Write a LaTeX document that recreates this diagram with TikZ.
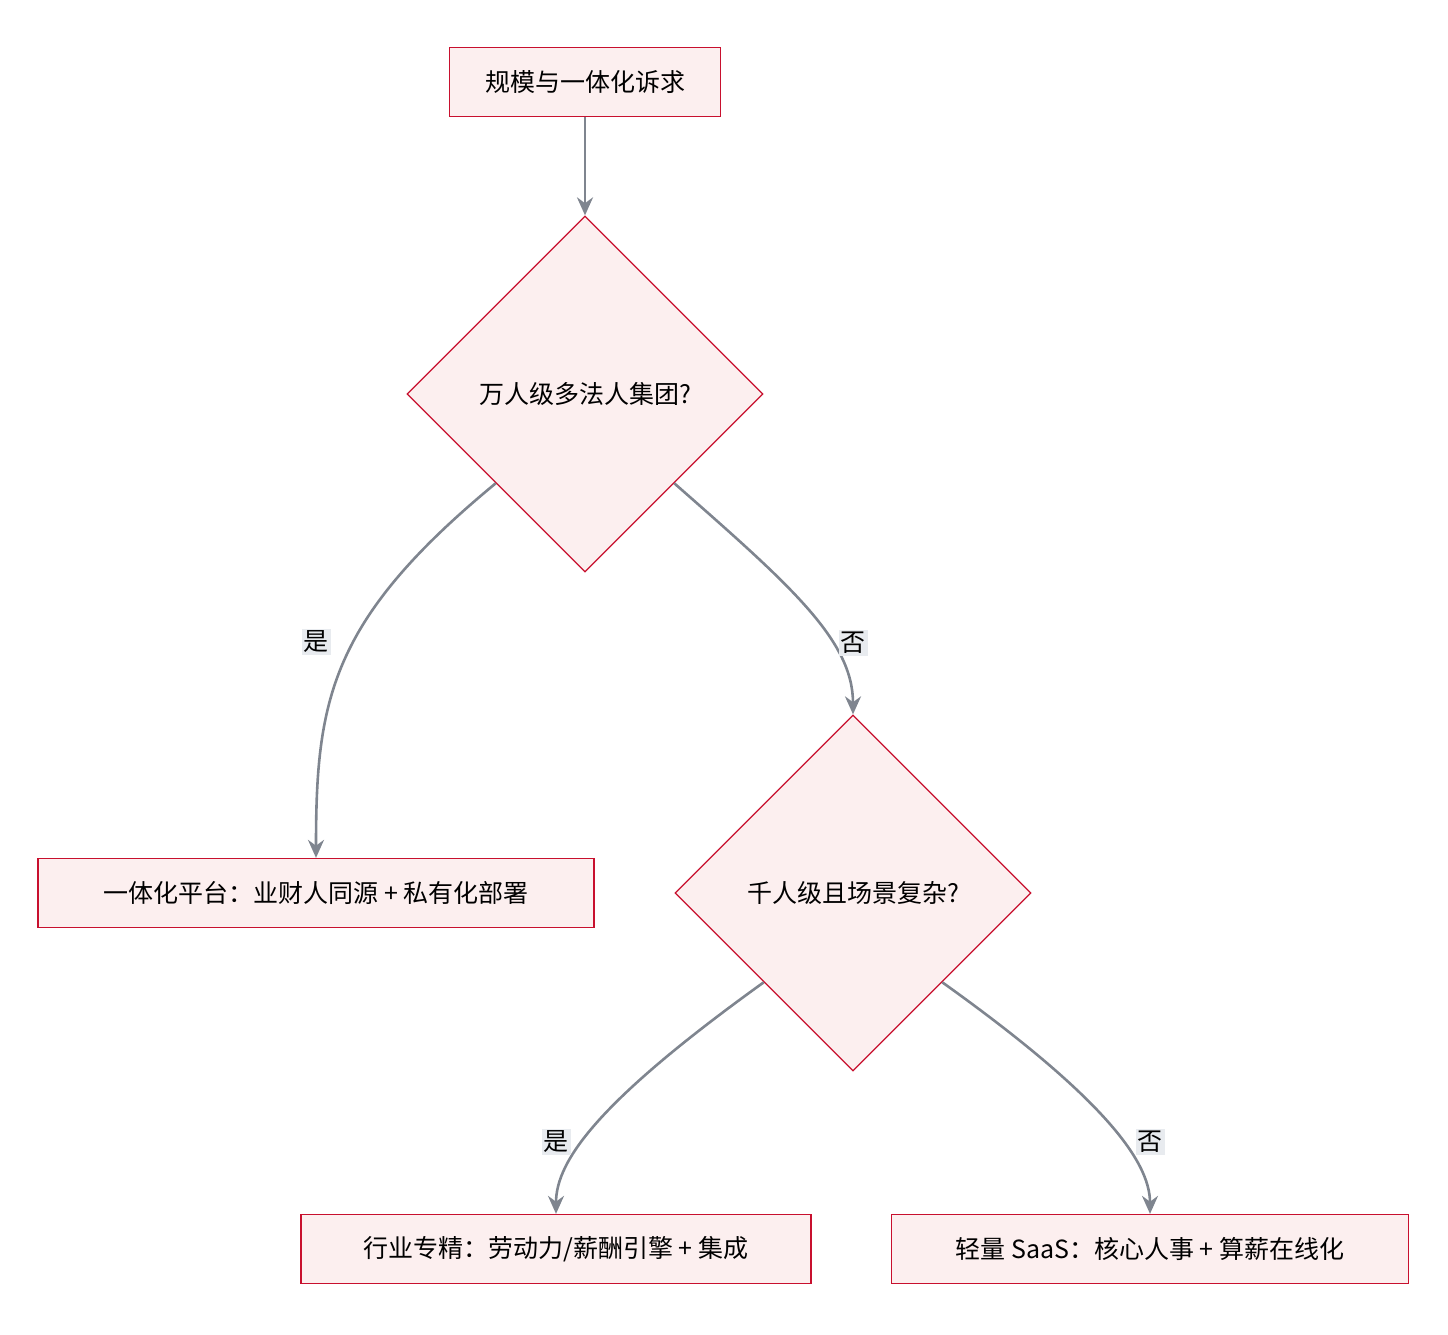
\documentclass[tikz,border=0pt]{standalone}
\usepackage{fontspec}
\setmainfont{Noto Sans CJK SC}
\usetikzlibrary{shapes.geometric,arrows.meta}
\definecolor{bd}{HTML}{C8102E}
\definecolor{fl}{HTML}{FCEFEF}
\definecolor{ar}{HTML}{7F858F}
\definecolor{lb}{HTML}{E8EBEF}
\begin{document}
\begin{tikzpicture}[x=1pt,y=-1pt,
 box/.style={draw=bd,fill=fl,line width=1.3pt,inner sep=0pt,minimum height=69pt,font=\fontsize{25}{30}\selectfont},
 dia/.style={diamond,aspect=1,draw=bd,fill=fl,line width=1.3pt,inner sep=0pt,minimum width=356pt,minimum height=356pt,font=\fontsize{25}{30}\selectfont},
 lab/.style={fill=lb,inner sep=2pt,font=\fontsize{25}{30}\selectfont},
 arr/.style={draw=ar,line width=2.6pt,-{Stealth[length=18pt,width=16pt]}}]
\useasboundingbox (0,0) rectangle (1448,1334);
\node[box,minimum width=271pt] (a) at (585,82) {规模与一体化诉求};
\node[dia] (d1) at (585,394) {万人级多法人集团?};
\node[box,minimum width=556pt] (b1) at (316,893) {一体化平台：业财人同源 + 私有化部署};
\node[dia] (d2) at (853,893) {千人级且场景复杂?};
\node[box,minimum width=510pt] (b2) at (556,1249) {行业专精：劳动力/薪酬引擎 + 集成};
\node[box,minimum width=517pt] (b3) at (1150,1249) {轻量 SaaS：核心人事 + 算薪在线化};
\draw[arr] (a) -- (d1.north);
\draw[arr] (d1.south west) .. controls (330,620) and (316,700) .. (b1.north);
\draw[arr] (d1.south east) .. controls (790,585) and (853,640) .. (d2.north);
\draw[arr] (d2.south west) .. controls (600,1100) and (556,1160) .. (b2.north);
\draw[arr] (d2.south east) .. controls (1100,1095) and (1150,1160) .. (b3.north);
\node[lab] (l1) at (316,642) {是};
\node[lab] (l2) at (853,643) {否};
\node[lab] (l3) at (556,1142) {是};
\node[lab] (l4) at (1150,1142) {否};
\end{tikzpicture}
\end{document}
